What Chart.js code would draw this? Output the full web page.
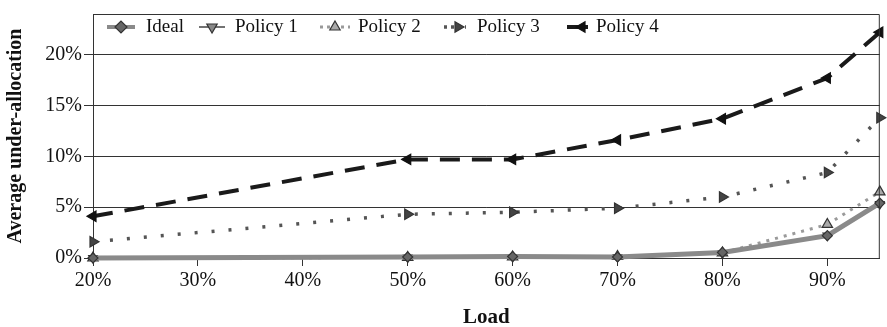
<!DOCTYPE html>
<html><head><meta charset="utf-8">
<script src="https://cdn.jsdelivr.net/npm/chart.js@4/dist/chart.umd.min.js"></script>
<style>html,body{margin:0;padding:0;background:#fff}#wrap{width:887px;height:327px}</style>
</head><body><div id="wrap"><canvas id="c"></canvas></div>
<script>
// data (load %, under-allocation %)
const loads   = [20, 50, 60, 70, 80, 90, 95];
const ideal   = [0, 0.1, 0.15, 0.1, 0.55, 2.2, 5.4];
const policy1 = [0, 0.05, 0.1, 0.1, 0.45, 2.2, 5.3];
const policy2 = [0, 0.05, 0.1, 0.15, 0.5, 3.3, 6.5];
const policy3 = [1.6, 4.3, 4.5, 4.9, 6.0, 8.4, 13.8];
const policy4 = [4.1, 9.7, 9.7, 11.6, 13.7, 17.7, 22.2];
const xTicks  = [20, 30, 40, 50, 60, 70, 80, 90];
const yTicks  = [0, 5, 10, 15, 20];

const FONT = "'Liberation Serif', 'Times New Roman', serif";
const pts = arr => arr.map((v, i) => ({x: loads[i], y: v}));

function ds(label, data, o){
  return Object.assign({label, data: pts(data), fill:false, tension:0, pointRadius:5, pointBorderWidth:1.2,
    pointBorderColor:'#333', clip:false}, o);
}

const datasets = [
  ds('Ideal', ideal, {borderColor:'#8a8a8a', borderWidth:5, pointStyle:'rectRot', pointBackgroundColor:'#666', pointRadius:5}),
  ds('Policy 1', policy1, {borderColor:'#444', borderWidth:1.5, pointStyle:'triangle', rotation:180, pointBackgroundColor:'#888'}),
  ds('Policy 2', policy2, {borderColor:'#9a9a9a', borderWidth:3, borderDash:[3,6], pointStyle:'triangle', pointBackgroundColor:'#aaa', pointRadius:6}),
  ds('Policy 3', policy3, {borderColor:'#555', borderWidth:3.5, borderDash:[3,14], pointStyle:'triangle', rotation:90, pointBackgroundColor:'#444', pointRadius:6}),
  ds('Policy 4', policy4, {borderColor:'#1a1a1a', borderWidth:4, borderDash:[20,12], pointStyle:'triangle', rotation:-90, pointBackgroundColor:'#111', pointBorderColor:'#111', pointRadius:6})
];

// legend sample: [line from, line to, marker x, text x, dashed]
const legendSlots = [[107, 135, 121, 146, 0], [199, 225, 212, 235, 0], [320, 350, 335, 358, 1], [444, 466, 458, 477, 1], [567, 588, 582, 596, 0]];

// frame on top/right + legend strip inside the plot
const frame = {
  id:'frame',
  afterDraw(chart){
    const {ctx, chartArea:a} = chart;
    ctx.save();
    ctx.strokeStyle = '#333'; ctx.lineWidth = 1;
    ctx.beginPath();
    ctx.moveTo(a.left, a.top + 0.5); ctx.lineTo(a.right - 0.5, a.top + 0.5); ctx.lineTo(a.right - 0.5, a.bottom);
    ctx.stroke();
    const y = 27;
    ctx.font = '19px ' + FONT;
    ctx.textBaseline = 'middle';
    chart.data.datasets.forEach((d, i) => {
      const [l0, l1, mx, tx, dashed] = legendSlots[i];
      ctx.save();
      ctx.strokeStyle = d.borderColor; ctx.lineWidth = Math.min(d.borderWidth, 4);
      ctx.setLineDash(dashed ? [3, 4] : []);
      ctx.beginPath(); ctx.moveTo(l0, y); ctx.lineTo(l1, y); ctx.stroke();
      ctx.setLineDash([]);
      ctx.fillStyle = d.pointBackgroundColor; ctx.strokeStyle = d.pointBorderColor; ctx.lineWidth = d.pointBorderWidth;
      Chart.helpers.drawPoint(ctx, {pointStyle:d.pointStyle, rotation:d.rotation || 0, radius:6, borderWidth:d.pointBorderWidth}, mx, y);
      ctx.restore();
      ctx.fillStyle = '#111';
      ctx.fillText(d.label, tx, y);
    });
    ctx.restore();
  }
};

new Chart(document.getElementById('c'), {
  type:'line',
  data:{datasets},
  plugins:[frame],
  options:{
    responsive:true, maintainAspectRatio:false, animation:false,
    layout:{padding:{top:6, right:3, left:0, bottom:-3}},
    plugins:{legend:{display:false}, tooltip:{enabled:false}},
    scales:{
      x:{type:'linear', min:20, max:95,
        afterBuildTicks: s => { s.ticks = xTicks.map(v => ({value:v})); },
        afterFit: s => { s.height = 72; },
        grid:{drawOnChartArea:false, drawTicks:true, tickLength:8, color:'#333'},
        border:{color:'#333', width:1},
        ticks:{color:'#111', font:{family:FONT, size:20}, padding:3, callback: v => v + '%'},
        title:{display:true, text:'Load', color:'#111', font:{family:FONT, size:21, weight:'bold'}, padding:{top:17, bottom:0}}
      },
      y:{min:0, max:24,
        afterBuildTicks: s => { s.ticks = yTicks.map(v => ({value:v})); },
        afterFit: s => { s.width = 93; },
        grid:{color:'#333', lineWidth:1, tickLength:9},
        border:{color:'#333', width:1},
        ticks:{color:'#111', font:{family:FONT, size:20}, padding:2, callback: v => v + '%'},
        title:{display:true, text:'Average under-allocation', color:'#111', font:{family:FONT, size:20, weight:'bold'}, padding:{bottom:2}}
      }
    }
  }
});
</script></body></html>
